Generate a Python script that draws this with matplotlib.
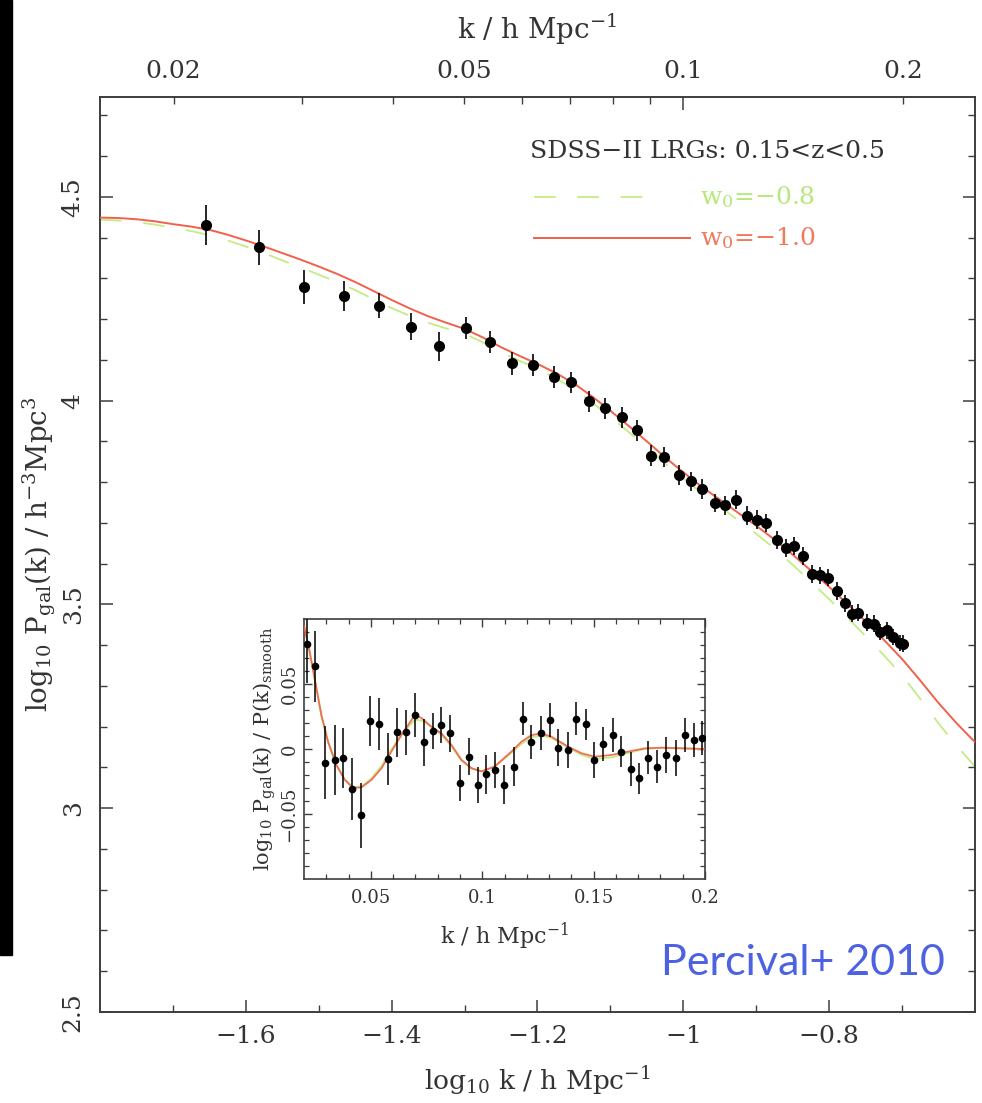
import numpy as np
import matplotlib
matplotlib.use("Agg")
import matplotlib.pyplot as plt
from matplotlib.patches import Rectangle

plt.rcParams["font.family"] = ["DejaVu Serif"]
plt.rcParams["mathtext.fontset"] = "dejavuserif"

# main panel: measured power spectrum (log10 k, log10 P)
logk_main = [-1.655, -1.582, -1.520, -1.466, -1.418, -1.374, -1.335, -1.298, -1.265,
             -1.235, -1.206, -1.178, -1.154, -1.130, -1.107, -1.084, -1.064, -1.044,
             -1.027, -1.006, -0.990, -0.974, -0.956, -0.943, -0.928, -0.913, -0.899,
             -0.886, -0.872, -0.859, -0.848, -0.836, -0.824, -0.812, -0.801, -0.789,
             -0.778, -0.769, -0.760, -0.748, -0.739, -0.730, -0.721, -0.712, -0.703,
             -0.699]
logP_main = [4.431, 4.376, 4.279, 4.257, 4.233, 4.181, 4.133, 4.177, 4.145,
             4.092, 4.088, 4.057, 4.045, 3.998, 3.981, 3.959, 3.927, 3.865,
             3.861, 3.817, 3.802, 3.783, 3.749, 3.743, 3.757, 3.718, 3.708,
             3.699, 3.659, 3.638, 3.643, 3.619, 3.575, 3.571, 3.565, 3.533,
             3.503, 3.477, 3.480, 3.455, 3.453, 3.432, 3.436, 3.420, 3.406,
             3.404]
logP_err = [0.049, 0.043, 0.042, 0.037, 0.031, 0.033, 0.035, 0.027, 0.027,
            0.028, 0.027, 0.027, 0.026, 0.026, 0.026, 0.025, 0.025, 0.025,
            0.024, 0.024, 0.024, 0.024, 0.023, 0.023, 0.023, 0.023, 0.023,
            0.022, 0.022, 0.022, 0.022, 0.022, 0.022, 0.021, 0.021, 0.021,
            0.021, 0.021, 0.021, 0.021, 0.020, 0.020, 0.020, 0.020, 0.020,
            0.020]

logk_model = [-1.800, -1.775, -1.750, -1.725, -1.700, -1.675, -1.650, -1.625, -1.600,
              -1.575, -1.550, -1.525, -1.500, -1.475, -1.450, -1.425, -1.400, -1.375,
              -1.350, -1.325, -1.300, -1.275, -1.250, -1.225, -1.200, -1.175, -1.150,
              -1.125, -1.100, -1.075, -1.050, -1.025, -1.000, -0.975, -0.950, -0.925,
              -0.900, -0.875, -0.850, -0.825, -0.800, -0.775, -0.750, -0.725, -0.700,
              -0.675, -0.650, -0.625, -0.600]
model_w10 = [4.449, 4.448, 4.445, 4.440, 4.433, 4.427, 4.419, 4.407, 4.393,
             4.378, 4.362, 4.346, 4.329, 4.311, 4.291, 4.269, 4.247, 4.226,
             4.207, 4.191, 4.176, 4.155, 4.131, 4.110, 4.090, 4.068, 4.042,
             4.010, 3.975, 3.938, 3.900, 3.861, 3.824, 3.789, 3.757, 3.725,
             3.693, 3.659, 3.622, 3.583, 3.543, 3.501, 3.458, 3.413, 3.366,
             3.313, 3.258, 3.208, 3.162]
model_w08 = [4.444, 4.442, 4.438, 4.432, 4.424, 4.416, 4.406, 4.393, 4.378,
             4.362, 4.344, 4.327, 4.309, 4.291, 4.271, 4.249, 4.227, 4.208,
             4.191, 4.177, 4.164, 4.143, 4.119, 4.098, 4.078, 4.055, 4.028,
             3.995, 3.960, 3.923, 3.885, 3.846, 3.809, 3.773, 3.740, 3.707,
             3.673, 3.637, 3.597, 3.556, 3.513, 3.468, 3.422, 3.375, 3.326,
             3.268, 3.208, 3.153, 3.102]

# inset: BAO residuals
k_bao = [0.0212, 0.0251, 0.0296, 0.0338, 0.0375, 0.0416, 0.0455, 0.0495, 0.0535, 0.0577,
         0.0619, 0.0657, 0.0700, 0.0738, 0.0777, 0.0817, 0.0857, 0.0899, 0.0940, 0.0979,
         0.1019, 0.1056, 0.1098, 0.1142, 0.1183, 0.1221, 0.1262, 0.1303, 0.1341, 0.1383,
         0.1423, 0.1464, 0.1502, 0.1543, 0.1585, 0.1625, 0.1666, 0.1704, 0.1745, 0.1785,
         0.1827, 0.1868, 0.1909, 0.1951, 0.1987]
r_bao = [0.081, 0.0636, -0.0104, -0.0084, -0.0071, -0.0308, -0.0510, 0.0214, 0.0189, -0.0076,
         0.0127, 0.0127, 0.0260, 0.0051, 0.0137, 0.0183, 0.0120, -0.0262, -0.0059, -0.0275,
         -0.0195, -0.0160, -0.0275, -0.0135, 0.0234, 0.0056, 0.0120, 0.0221, 0.0010, -0.0008,
         0.0234, 0.0189, -0.0084, 0.0036, 0.0107, -0.0021, -0.0153, -0.0224, -0.0066, -0.0135,
         -0.0046, -0.0071, 0.0107, 0.0069, 0.0086]
r_err = [0.030, 0.0275, 0.028, 0.027, 0.023, 0.024, 0.025, 0.019, 0.020, 0.020,
         0.019, 0.017, 0.017, 0.018, 0.014, 0.014, 0.014, 0.014, 0.014, 0.014,
         0.015, 0.014, 0.015, 0.015, 0.013, 0.013, 0.013, 0.013, 0.014, 0.014,
         0.013, 0.012, 0.014, 0.013, 0.013, 0.012, 0.013, 0.012, 0.013, 0.013,
         0.014, 0.014, 0.013, 0.013, 0.013]

k_curve = [0.0200, 0.0226, 0.0251, 0.0278, 0.0308, 0.0345, 0.0383, 0.0420, 0.0458, 0.0503,
           0.0548, 0.0592, 0.0637, 0.0697, 0.0727, 0.0772, 0.0817, 0.0862, 0.0907, 0.0952,
           0.0997, 0.1056, 0.1131, 0.1176, 0.1221, 0.1266, 0.1311, 0.1386, 0.1446, 0.1505,
           0.1580, 0.1655, 0.1730, 0.1805, 0.1895, 0.2000]
bao_w10 = [0.0947, 0.0743, 0.0514, 0.0260, 0.0056, -0.0122, -0.0237, -0.0300, -0.0295, -0.0237,
           -0.0148, -0.0020, 0.0107, 0.0260, 0.0239, 0.0170, 0.0120, 0.0031, -0.0084, -0.0148,
           -0.0173, -0.0135, -0.0020, 0.0056, 0.0107, 0.0120, 0.0094, 0.0018, -0.0033, -0.0059,
           -0.0046, -0.0020, 0.0005, 0.0010, 0.0005, 0.0000]
bao_w08 = [0.0960, 0.0735, 0.0505, 0.0255, 0.0050, -0.0125, -0.0235, -0.0295, -0.0290, -0.0225,
           -0.0130, -0.0005, 0.0110, 0.0225, 0.0220, 0.0175, 0.0110, 0.0020, -0.0090, -0.0150,
           -0.0170, -0.0135, -0.0030, 0.0040, 0.0090, 0.0105, 0.0085, 0.0010, -0.0045, -0.0075,
           -0.0065, -0.0030, 0.0000, 0.0010, 0.0005, 0.0000]

top_ticks = [0.02, 0.03, 0.04, 0.05, 0.06, 0.07, 0.08, 0.09, 0.2]
top_labels = ["0.02", "", "", "0.05", "", "", "", "", "0.2"]

red = "#f2604c"
green = "#c4ec84"
axcol = "#3a3f3a"
txtcol = "#333333"

fig = plt.figure(figsize=(9.82, 11.03), dpi=100)
fig.patches.append(Rectangle((0, 1 - 955 / 1103), 12 / 982, 955 / 1103,
                             transform=fig.transFigure, color="black", zorder=0))

ax = fig.add_axes([0.1018, 0.0825, 0.8911, 0.8296])
ax.plot(logk_model, model_w08, color=green, lw=1.3, ls=(0, (12, 12)), zorder=2)
ax.plot(logk_model, model_w10, color=red, lw=1.4, zorder=3)
ax.errorbar(logk_main, logP_main, yerr=logP_err, fmt="o", color="black", ms=7,
            elinewidth=1.2, capsize=0, zorder=4)
ax.set_xlim(-1.8, -0.6)
ax.set_ylim(2.5, 4.745)
ax.set_xticks([-1.6, -1.4, -1.2, -1.0, -0.8])
ax.set_xticklabels(["−1.6", "−1.4", "−1.2", "−1", "−0.8"])
ax.set_xticks(np.arange(-1.7, -0.6, 0.2), minor=True)
ax.set_yticks([2.5, 3, 3.5, 4, 4.5])
ax.set_yticklabels(["2.5", "3", "3.5", "4", "4.5"], rotation=90, va="center")
ax.set_yticks(np.arange(2.6, 4.75, 0.1), minor=True)
ax.tick_params(which="both", direction="in", right=True, colors=axcol,
               labelcolor=txtcol, labelsize=18)
ax.tick_params(which="major", length=9, width=1.1)
ax.tick_params(which="minor", length=5, width=1.0)
ax.tick_params(axis="x", pad=9)
ax.tick_params(axis="y", pad=11)
for s in ax.spines.values():
    s.set_color(axcol)
    s.set_linewidth(1.4)
ax.set_xlabel(r"log$_{10}$ k / h Mpc$^{-1}$", fontsize=19, color=txtcol, labelpad=12)
ax.set_ylabel(r"log$_{10}$ P$_{\rm gal}$(k) / h$^{-3}$Mpc$^{3}$", fontsize=20,
              color=txtcol, labelpad=3)

top = ax.twiny()
top.set_xlim(ax.get_xlim())
top.set_xticks([np.log10(0.1)])
top.set_xticklabels(["0.1"])
top.set_xticks(np.log10(top_ticks), minor=True)
top.set_xticklabels(top_labels, minor=True)
top.tick_params(which="both", direction="in", colors=axcol, labelcolor=txtcol,
                labelsize=18, pad=10)
top.tick_params(which="major", length=9, width=1.1)
top.tick_params(which="minor", length=5, width=1.0)
top.set_xlabel(r"k / h Mpc$^{-1}$", fontsize=20, color=txtcol, labelpad=15)
for s in top.spines.values():
    s.set_visible(False)

# legend
ax.text(0.491, 0.94, "SDSS−II LRGs: 0.15<z<0.5", transform=ax.transAxes,
        fontsize=18, color=txtcol, va="center")
ax.plot([0.496, 0.64], [0.8907, 0.8907], transform=ax.transAxes, color=green,
        lw=1.3, ls=(0, (12, 12)))
ax.text(0.686, 0.8907, r"w$_0$=−0.8", transform=ax.transAxes, fontsize=18,
        color="#b6e87a", va="center")
ax.plot([0.496, 0.674], [0.8459, 0.8459], transform=ax.transAxes, color=red, lw=1.4)
ax.text(0.686, 0.8459, r"w$_0$=−1.0", transform=ax.transAxes, fontsize=18,
        color="#f07a5c", va="center")

fig.text(0.962, 0.127, "Percival+ 2010", fontsize=31, color="#4c62e0",
         family=["Lato", "DejaVu Sans"], ha="right", va="center")

# inset
ins = fig.add_axes([0.3096, 0.2031, 0.4083, 0.2357])
ins.plot(k_curve, bao_w08, color=green, lw=1.4, zorder=2)
ins.plot(k_curve, bao_w10, color=red, lw=1.3, alpha=0.9, zorder=3)
ins.errorbar(k_bao, r_bao, yerr=r_err, fmt="o", color="black", ms=4.5,
             elinewidth=1.1, capsize=0, zorder=4)
ins.set_xlim(0.02, 0.2)
ins.set_ylim(-0.1, 0.1)
ins.set_xticks([0.05, 0.1, 0.15, 0.2])
ins.set_xticklabels(["0.05", "0.1", "0.15", "0.2"])
ins.set_xticks(np.arange(0.03, 0.2, 0.01), minor=True)
ins.set_yticks([-0.05, 0, 0.05])
ins.set_yticklabels(["−0.05", "0", "0.05"], rotation=90, va="center")
ins.set_yticks(np.arange(-0.09, 0.1, 0.01), minor=True)
ins.tick_params(which="both", direction="in", top=True, right=True, colors=axcol,
                labelcolor=txtcol, labelsize=13)
ins.tick_params(which="major", length=6, width=1.0)
ins.tick_params(which="minor", length=3.5, width=0.9)
ins.tick_params(axis="x", pad=7)
ins.tick_params(axis="y", pad=4)
for s in ins.spines.values():
    s.set_color(axcol)
    s.set_linewidth(1.2)
ins.set_xlabel(r"k / h Mpc$^{-1}$", fontsize=16, color=txtcol, labelpad=10)
ins.set_ylabel(r"log$_{10}$ P$_{\rm gal}$(k) / P(k)$_{\rm smooth}$", fontsize=15,
               color=txtcol, labelpad=2)

plt.savefig("out.png", dpi=100)
plt.close(fig)
